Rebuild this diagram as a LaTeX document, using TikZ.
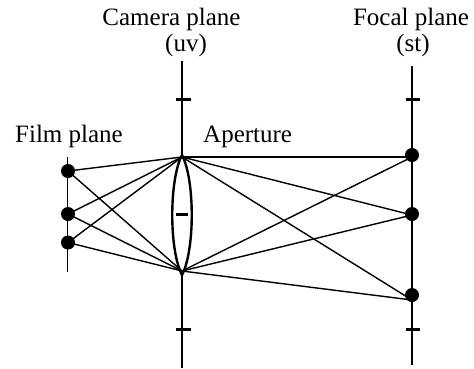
\documentclass[tikz,border=0pt]{standalone}
\usepackage{fontspec}
\setmainfont{Liberation Serif}
\tikzset{
  label text/.style={font=\fontsize{25}{25}\selectfont, inner sep=0pt, anchor=base},
  plane/.style={line width=2.8pt},
  film/.style={line width=1.5pt},
  ray/.style={line width=1.4pt},
  tick mark/.style={line width=2.2pt},
  minus mark/.style={line width=3pt},
  lens/.style={line width=2.4pt},
  dot/.style={circle, fill=black, draw=none, minimum size=14pt, inner sep=0pt},
}
\begin{document}
\begin{tikzpicture}[x=1pt,y=-1pt]
\useasboundingbox (0,0) rectangle (474,368);
\fill[white] (0,0) rectangle (474,368);
% text
\node[label text] (cam) at (171.5,25) {Camera plane};
\node[label text] (uv) at (186,51.5) {(uv)};
\node[label text] (foc) at (411,25) {Focal plane};
\node[label text] (st) at (413,51.5) {(st)};
\node[label text] (fil) at (69,142) {Film plane};
\node[label text,anchor=base west] (ape) at (203,142) {Aperture};
% planes
\coordinate (camT) at (182,61);
\coordinate (camB) at (182,368);
\coordinate (lensT) at (182,155);
\coordinate (lensB) at (182,275);
\coordinate (focT) at (412,66);
\coordinate (focB) at (412,365);
\coordinate (filT) at (67.5,157);
\coordinate (filB) at (67.5,272);
\draw[plane] (camT) -- (lensT);
\draw[plane] (lensB) -- (camB);
\draw[plane] (focT) -- (focB);
\draw[film] (filT) -- (filB);
% ticks
\draw[tick mark] (176,99.5) -- (190.5,99.5);
\draw[tick mark] (176,329.5) -- (190.5,329.5);
\draw[tick mark] (405.5,99.5) -- (420,99.5);
\draw[tick mark] (405.5,329.5) -- (420,329.5);
\draw[minus mark] (176,214.5) -- (188,214.5);
% apexes
\coordinate (A) at (182,157);
\coordinate (B) at (182,271);
% points
\node[dot] (f1) at (68,171) {};
\node[dot] (f2) at (68,214) {};
\node[dot] (f3) at (68,242.5) {};
\node[dot] (s1) at (412,155) {};
\node[dot] (s2) at (412,214) {};
\node[dot] (s3) at (412,295) {};
% rays
\coordinate (s1r) at (412,157);
\coordinate (s2r) at (412,215);
\coordinate (s3r) at (412,300);
\foreach \p in {f1,f2,f3}{
  \draw[ray] (A) -- (\p.center);
  \draw[ray] (B) -- (\p.center);
}
\foreach \p in {s1r,s2r,s3r}{
  \draw[ray] (A) -- (\p);
  \draw[ray] (B) -- (\p);
}
% lens
\draw[lens] (lensT) .. controls (169,180) and (169,250) .. (lensB);
\draw[lens] (lensT) .. controls (195,180) and (195,250) .. (lensB);
\end{tikzpicture}
\end{document}
